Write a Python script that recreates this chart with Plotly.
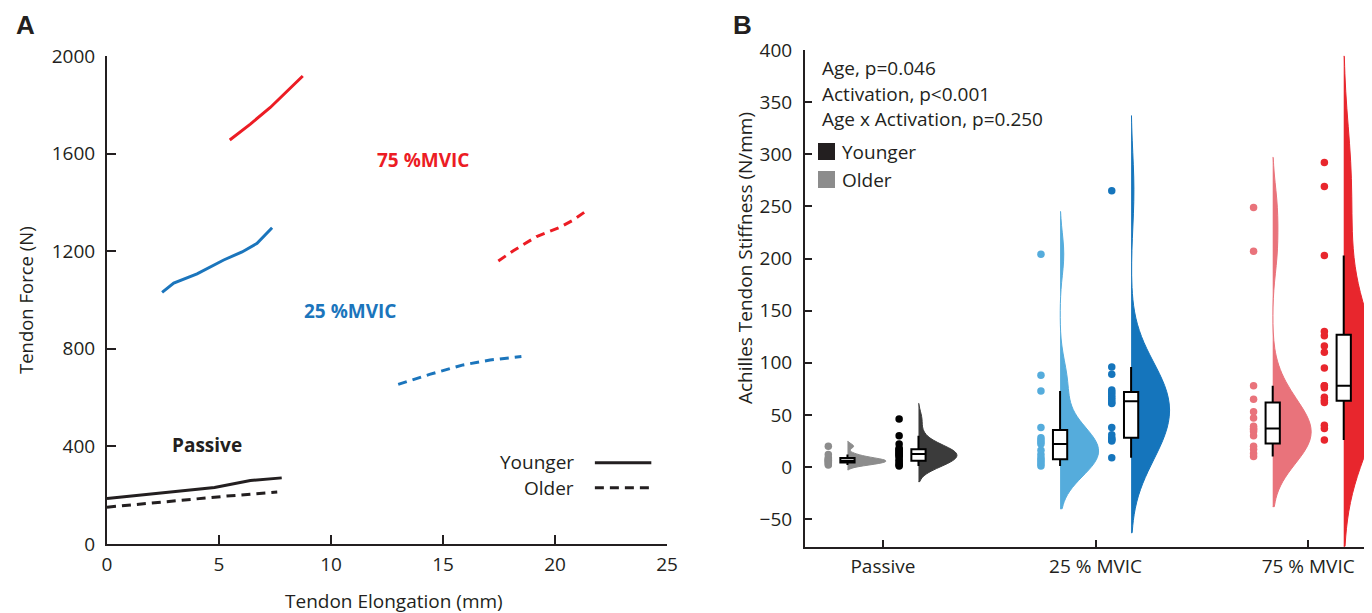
import plotly.graph_objects as go

# ---------------- Panel A data (force-elongation curves) ----------------
pas_young_x = [0.0, 3.8, 4.8, 6.4, 7.8]
pas_young_y = [186, 221, 232, 260, 271]
pas_old_x = [0.0, 2.8, 5.3, 7.6]
pas_old_y = [151, 176, 196, 213]
mv25_young_x = [2.46, 2.98, 4.02, 5.21, 6.03, 6.70, 7.37]
mv25_young_y = [1031, 1069, 1107, 1164, 1197, 1232, 1296]
mv25_old_x = [13.0, 14.4, 15.9, 17.1, 18.5]
mv25_old_y = [654, 695, 734, 754, 768]
mv75_young_x = [5.48, 6.4, 7.29, 8.74]
mv75_young_y = [1656, 1721, 1789, 1918]
mv75_old_x = [17.47, 18.14, 19.18, 20.22, 20.82, 21.41]
mv75_old_y = [1160, 1202, 1260, 1298, 1328, 1366]

# ---------------- Panel B data (stiffness, N/mm) ----------------
categories = ["Passive", "25 % MVIC", "75 % MVIC"]
pas_old = [2, 3, 4, 5, 6, 6, 7, 8, 9, 12, 20]
pas_young = [1, 2, 3, 5, 6, 8, 10, 11, 12, 13, 14, 15, 16, 17, 18, 22, 30, 46]
s25_old = [1, 3, 5, 7, 9, 12, 16, 22, 24, 26, 28, 38, 73, 88, 204]
s25_young = [9, 25, 26, 27, 28, 31, 38, 61, 62, 64, 66, 68, 70, 72, 74, 89, 96, 265]
s75_old = [10, 13, 17, 20, 30, 34, 36, 37, 39, 47, 53, 65, 78, 207, 249]
s75_young = [26, 37, 40, 62, 64, 67, 76, 78, 78, 95, 110, 116, 126, 130, 203, 269, 292]
bw_old = [2.3, 20.5, 24]
bw_young = [7.5, 36, 51]

col_old = ["#8c8c8c", "#55acdc", "#e9737b"]
col_young_dot = ["#000000", "#1575bc", "#e8262d"]
col_young_vio = ["#3b3b3b", "#1575bc", "#e8262d"]

RED = "#ec1c24"
BLUE = "#1b75bc"
BLACK = "#231f20"
FONT = "Open Sans"

fig = go.Figure()

# ---- Panel A traces ----
def aline(x, y, color, dash):
    fig.add_trace(go.Scatter(x=x, y=y, mode="lines", line=dict(color=color, width=3, dash=dash),
                             xaxis="x", yaxis="y", showlegend=False, hoverinfo="skip"))

DASH = "9px,6px"
aline(pas_young_x, pas_young_y, BLACK, "solid")
aline(pas_old_x, pas_old_y, BLACK, DASH)
aline(mv25_young_x, mv25_young_y, BLUE, "solid")
aline(mv25_old_x, mv25_old_y, BLUE, DASH)
aline(mv75_young_x, mv75_young_y, RED, "solid")
aline(mv75_old_x, mv75_old_y, RED, DASH)

# ---- Panel B traces ----
OFF_DOT_O, OFF_BOX_O, OFF_DOT_Y, OFF_BOX_Y = -0.257, -0.167, 0.076, 0.167
VW = 0.362
BW = 0.067
olds = [pas_old, s25_old, s75_old]
youngs = [pas_young, s25_young, s75_young]

for i in range(3):
    for data, off_b, off_d, bw, cv, cd in [
        (olds[i], OFF_BOX_O, OFF_DOT_O, bw_old[i], col_old[i], col_old[i]),
        (youngs[i], OFF_BOX_Y, OFF_DOT_Y, bw_young[i], col_young_vio[i], col_young_dot[i]),
    ]:
        fig.add_trace(go.Violin(y=data, x0=i + off_b, side="positive", bandwidth=bw, spanmode="soft",
                                scalemode="width", width=VW, line=dict(color=cv, width=1), fillcolor=cv,
                                points=False, box_visible=False, meanline_visible=False,
                                xaxis="x2", yaxis="y2", showlegend=False, hoverinfo="skip"))
        fig.add_trace(go.Box(y=data, x0=i + off_b, width=BW, fillcolor="white",
                             line=dict(color="black", width=2), whiskerwidth=0,
                             boxpoints="outliers", jitter=0, pointpos=0,
                             marker=dict(opacity=0, size=1, color="rgba(0,0,0,0)"),
                             xaxis="x2", yaxis="y2", showlegend=False, hoverinfo="skip"))
        fig.add_trace(go.Scatter(x=[i + off_d] * len(data), y=data, mode="markers",
                                 marker=dict(color=cd, size=7.5), xaxis="x2", yaxis="y2",
                                 showlegend=False, hoverinfo="skip"))

# page has an 8px body margin: figure occupies screen pixels 8..1372 x 8..613
OFFS = 8
W, H = 1372 - OFFS, 613 - OFFS
def px(x):
    return (x - OFFS) / W
def py(y):
    return 1 - (y - OFFS) / H

axis_common = dict(showline=True, linewidth=2, linecolor=BLACK, ticks="inside", tickwidth=2,
                   tickcolor=BLACK, showgrid=False, zeroline=False, automargin=False,
                   tickfont=dict(family=FONT, size=19, color=BLACK))

fig.update_layout(
    width=W, height=H, margin=dict(l=0, r=0, t=0, b=0, pad=0, autoexpand=False),
    paper_bgcolor="white", plot_bgcolor="white",
    violinmode="overlay", boxmode="overlay", showlegend=False,
    xaxis=dict(domain=[px(107), px(667)], range=[0, 25], tickvals=[0, 5, 10, 15, 20, 25],
               ticklen=9, anchor="y", ticklabelstandoff=2, **axis_common),
    yaxis=dict(domain=[py(544), py(56)], range=[0, 2000], tickvals=[0, 400, 800, 1200, 1600, 2000],
               ticklen=9, anchor="x", ticklabelstandoff=6, **axis_common),
    xaxis2=dict(domain=[px(805), 1.0], range=[-0.3667, 2.3], tickvals=[0, 1, 2], ticktext=categories,
                ticklen=7, anchor="y2", ticklabelstandoff=1, **axis_common),
    yaxis2=dict(domain=[py(547), py(50)], range=[-76.7, 400],
                tickvals=[-50, 0, 50, 100, 150, 200, 250, 300, 350, 400],
                ticklen=7, anchor="x2", ticklabelstandoff=7, **axis_common),
)

ann = []
def text(x, y, s, size=19, color=BLACK, bold=False, xanchor="center", yanchor="middle",
         xref="paper", yref="paper", angle=0, family=FONT):
    ann.append(dict(x=x, y=y, xref=xref, yref=yref, text=("<b>%s</b>" % s) if bold else s,
                    showarrow=False, xanchor=xanchor, yanchor=yanchor, textangle=angle,
                    font=dict(family=family, size=size, color=color)))

# panel letters
text(px(25), py(25), "A", size=26, bold=True, family="Liberation Sans")
text(px(742), py(25), "B", size=26, bold=True, family="Liberation Sans")
# axis titles
text(px(25), py(300), "Tendon Force (N)", size=18.5, angle=-90)
text(px(394), py(601), "Tendon Elongation (mm)", size=19)
text(px(745), py(258), "Achilles Tendon Stiffness (N/mm)", size=19, angle=-90)
# panel A labels
text(14.1, 1574, "75 %MVIC", size=19, color=RED, bold=True, xref="x", yref="y")
text(10.85, 955, "25 %MVIC", size=19, color=BLUE, bold=True, xref="x", yref="y")
text(4.45, 404, "Passive", size=19, color=BLACK, bold=True, xref="x", yref="y")
# panel A legend
text(20.95, 335, "Younger", size=19, xanchor="right", xref="x", yref="y")
text(20.95, 231, "Older", size=19, xanchor="right", xref="x", yref="y")
# panel B stats
text(px(820), py(68), "Age, p=0.046", size=19, xanchor="left")
text(px(820), py(94), "Activation, p<0.001", size=19, xanchor="left")
text(px(820), py(119), "Age x Activation, p=0.250", size=19, xanchor="left")
text(px(840), py(152), "Younger", size=19, xanchor="left")
text(px(840), py(180), "Older", size=19, xanchor="left")
fig.update_layout(annotations=ann)

shapes = [
    dict(type="line", xref="x", yref="y", x0=21.78, x1=24.3, y0=333, y1=333,
         line=dict(color=BLACK, width=3)),
    dict(type="line", xref="x", yref="y", x0=21.78, x1=24.3, y0=231, y1=231,
         line=dict(color=BLACK, width=3, dash=DASH)),
    dict(type="rect", xref="paper", yref="paper", x0=px(818), x1=px(835), y0=py(143), y1=py(160),
         fillcolor="#231f20", line=dict(width=0)),
    dict(type="rect", xref="paper", yref="paper", x0=px(818), x1=px(835), y0=py(171), y1=py(188),
         fillcolor="#8c8c8c", line=dict(width=0)),
]
fig.update_layout(shapes=shapes)

fig.write_html("out.html")
